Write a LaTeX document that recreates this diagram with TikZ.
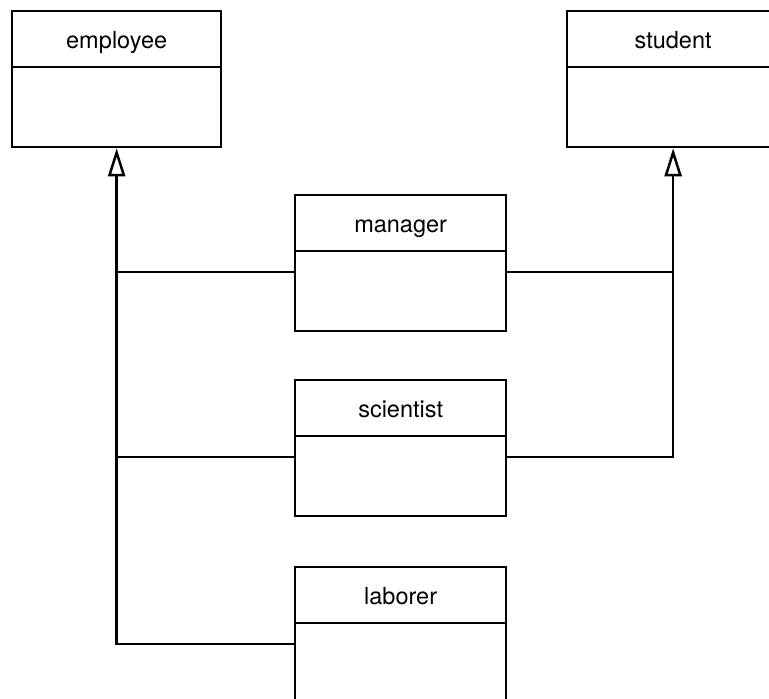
\documentclass[tikz,border=0pt]{standalone}
\usepackage{fontspec}
\setmainfont{TeX Gyre Heros}
\usetikzlibrary{arrows.meta,calc}
\begin{document}
\begin{tikzpicture}[x=1pt,y=-1pt,
  classbox/.style={draw=black, line width=2.3pt, minimum height=136pt, inner sep=0pt, anchor=north west},
  classname/.style={anchor=base, inner sep=0pt, font=\fontsize{23.5}{28}\selectfont},
  conn/.style={draw=black, line width=2.5pt},
  inherit/.style={conn, -{Triangle[open, width=17pt, length=28pt]}}]
\useasboundingbox (0,0) rectangle (769,699);
% class boxes
\node[classbox, minimum width=209pt] (emp) at (11,10) {};
\node[classbox, minimum width=212pt] (stu) at (566,10) {};
\node[classbox, minimum width=211pt] (man) at (294,194) {};
\node[classbox, minimum width=211pt] (sci) at (294,379) {};
\node[classbox, minimum width=211pt] (lab) at (294,566) {};
% names
\node[classname] (empn) at ($(emp.north)+(0,38)$) {employee};
\node[classname] (stun) at ($(stu.north)+(0,38)$) {student};
\node[classname] (mann) at ($(man.north)+(0,38)$) {manager};
\node[classname] (scin) at ($(sci.north)+(0,38)$) {scientist};
\node[classname] (labn) at ($(lab.north)+(0,38)$) {laborer};
% dividers
\foreach \b in {emp,stu,man,sci,lab}{
  \draw[line width=2.3pt] ($(\b.north west)+(0,57)$) -- ($(\b.north east)+(0,57)$);
}
% inheritance connectors
\draw[inherit] ([yshift=-9pt]lab.west) -| (emp.south);
\draw[conn] ([yshift=-9pt]man.west) -- ([yshift=-9pt]man.west -| emp.south);
\draw[conn] ([yshift=-9pt]sci.west) -- ([yshift=-9pt]sci.west -| emp.south);
\draw[inherit] ([yshift=-9pt]sci.east) -| (stu.south);
\draw[conn] ([yshift=-9pt]man.east) -- ([yshift=-9pt]man.east -| stu.south);
\end{tikzpicture}
\end{document}
